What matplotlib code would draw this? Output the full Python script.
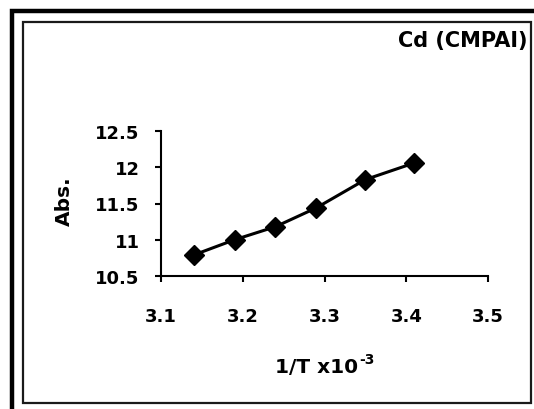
import matplotlib
matplotlib.use("Agg")
import matplotlib.pyplot as plt
from matplotlib.patches import Rectangle

# Data: inverse temperature (x10^-3) vs. absorbance
inv_T = [3.14, 3.19, 3.24, 3.29, 3.35, 3.41]
absorbance = [10.79, 11.00, 11.18, 11.44, 11.83, 12.06]

x_ticks = [3.1, 3.2, 3.3, 3.4, 3.5]
y_ticks = [10.5, 11, 11.5, 12, 12.5]
y_tick_labels = ["10.5", "11", "11.5", "12", "12.5"]

plt.rcParams["font.family"] = ["DejaVu Sans"]
plt.rcParams["font.weight"] = "bold"

W, H = 534, 410
fig = plt.figure(figsize=(W / 100, H / 100), dpi=100)

def px(x, y):
    return x / W, 1 - y / H

# Outer and inner frames
fig.add_artist(Rectangle(px(11.5, 420), 540 / W, (420 - 11.5) / H,
                         transform=fig.transFigure, fill=False,
                         edgecolor="black", linewidth=3.2))
fig.add_artist(Rectangle(px(22.5, 404), (530.5 - 22.5) / W, (404 - 23) / H,
                         transform=fig.transFigure, fill=False,
                         edgecolor="#1a1a1a", linewidth=1.6))

ax_l, ax_b = px(161, 277)
ax_r, ax_t = px(488, 132)
ax = fig.add_axes([ax_l, ax_b, ax_r - ax_l, ax_t - ax_b])

ax.plot(inv_T, absorbance, color="black", linewidth=2.2,
        marker="D", markersize=10, markerfacecolor="black",
        markeredgecolor="black", clip_on=False)

ax.set_xlim(3.1, 3.5)
ax.set_ylim(10.5, 12.5)
ax.set_xticks(x_ticks)
ax.set_xticklabels([f"{v:.1f}" for v in x_ticks])
ax.set_yticks(y_ticks)
ax.set_yticklabels(y_tick_labels)

for s in ("top", "right"):
    ax.spines[s].set_visible(False)
for s in ("left", "bottom"):
    ax.spines[s].set_linewidth(1.5)

ax.tick_params(axis="x", direction="out", length=4.5, width=1.5,
               pad=18, labelsize=13)
ax.tick_params(axis="y", direction="out", length=4.5, width=1.5,
               pad=11, labelsize=13)
for lbl in ax.get_xticklabels() + ax.get_yticklabels():
    lbl.set_fontweight("bold")

fig.text(*px(64, 201), "Abs.", rotation=90, ha="center", va="center",
         fontsize=14.5, fontweight="bold")

# x-axis label with a small superscript exponent
xl = fig.text(*px(275, 373), "1/T x10", ha="left", va="baseline",
              fontsize=14.5, fontweight="bold")
fig.canvas.draw()
bb = xl.get_window_extent()
fig.text(bb.x1 / W + 1 / W, 1 - 364 / H, "-3", ha="left", va="baseline",
         fontsize=10, fontweight="bold")

fig.text(*px(528, 47), "Cd (CMPAI)", ha="right", va="baseline",
         fontsize=15, fontweight="bold")

fig.savefig("out.png", dpi=100)
